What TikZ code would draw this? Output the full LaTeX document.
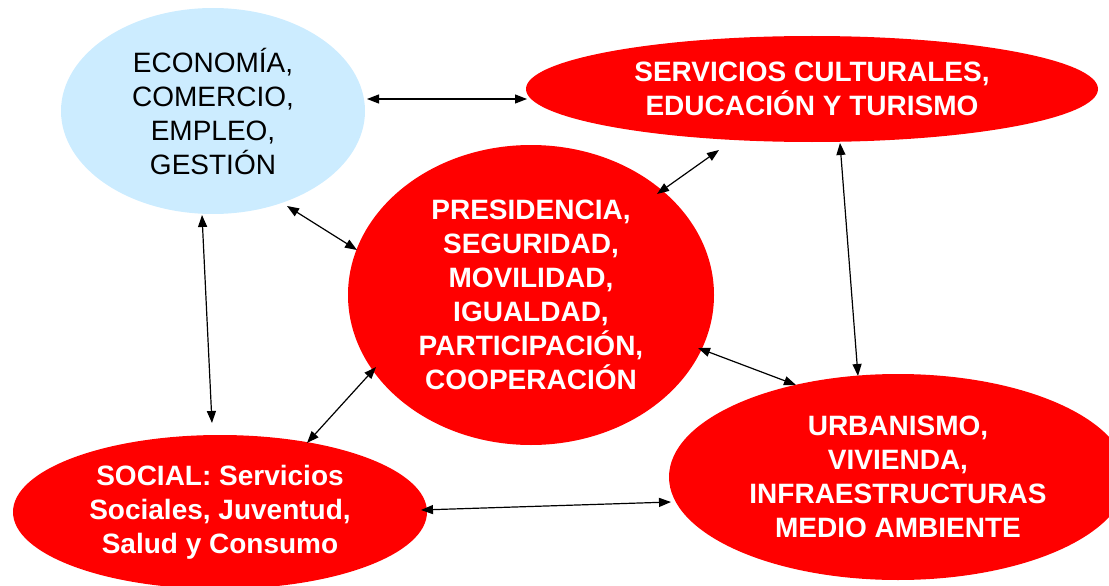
\documentclass[tikz,border=0pt]{standalone}
\usepackage{fontspec}
\setmainfont{Liberation Sans}
\usetikzlibrary{shapes.geometric,arrows.meta}
\definecolor{lightblue}{RGB}{204,236,255}
\definecolor{pptred}{RGB}{255,0,0}
\begin{document}
\begin{tikzpicture}[x=1pt,y=-1pt,
  blob/.style={ellipse, inner sep=0pt, align=center, fill=pptred, text=white,
    font=\fontsize{28}{34}\selectfont\bfseries},
  softblob/.style={ellipse, inner sep=0pt, align=center, fill=lightblue, text=black,
    font=\fontsize{28}{34}\selectfont},
  link/.style={{Triangle[length=12pt,width=9pt]}-{Triangle[length=12pt,width=9pt]},
    line width=1.2pt, draw=black}]
\useasboundingbox (0,0) rectangle (1109,586);

\node[softblob, minimum width=304pt, minimum height=206pt] (eco) at (213,111)
  {ECONOMÍA,\\COMERCIO,\\EMPLEO,\\GESTIÓN};
\node[blob, minimum width=572pt, minimum height=106pt] (cult) at (812,89)
  {SERVICIOS CULTURALES,\\EDUCACIÓN Y TURISMO};
\node[blob, minimum width=366pt, minimum height=300pt] (pres) at (531,295)
  {PRESIDENCIA,\\SEGURIDAD,\\MOVILIDAD,\\IGUALDAD,\\PARTICIPACIÓN,\\COOPERACIÓN};
\node[blob, minimum width=458pt, minimum height=206pt] (urb) at (898,477)
  {URBANISMO,\\VIVIENDA,\\INFRAESTRUCTURAS\\MEDIO AMBIENTE};
\node[blob, minimum width=414pt, minimum height=154pt] (soc) at (220,512)
  {SOCIAL: Servicios\\Sociales, Juventud,\\Salud y Consumo};

% connector end points
\coordinate (e1) at (367,99);  \coordinate (c1) at (527,99);
\coordinate (e2) at (287,206); \coordinate (p2) at (357,250);
\coordinate (e3) at (202,215); \coordinate (s3) at (212,423);
\coordinate (p4) at (376,367); \coordinate (s4) at (307,443);
\coordinate (p5) at (657,194); \coordinate (c5) at (719,150);
\coordinate (c6) at (840,143); \coordinate (u6) at (858,376);
\coordinate (p7) at (698,348); \coordinate (u7) at (796,385);
\coordinate (s8) at (421,510); \coordinate (u8) at (671,502);

\draw[link] (e1) -- (c1);
\draw[link] (e2) -- (p2);
\draw[link] (e3) -- (s3);
\draw[link] (p4) -- (s4);
\draw[link] (p5) -- (c5);
\draw[link] (c6) -- (u6);
\draw[link] (p7) -- (u7);
\draw[link] (s8) -- (u8);
\end{tikzpicture}
\end{document}
